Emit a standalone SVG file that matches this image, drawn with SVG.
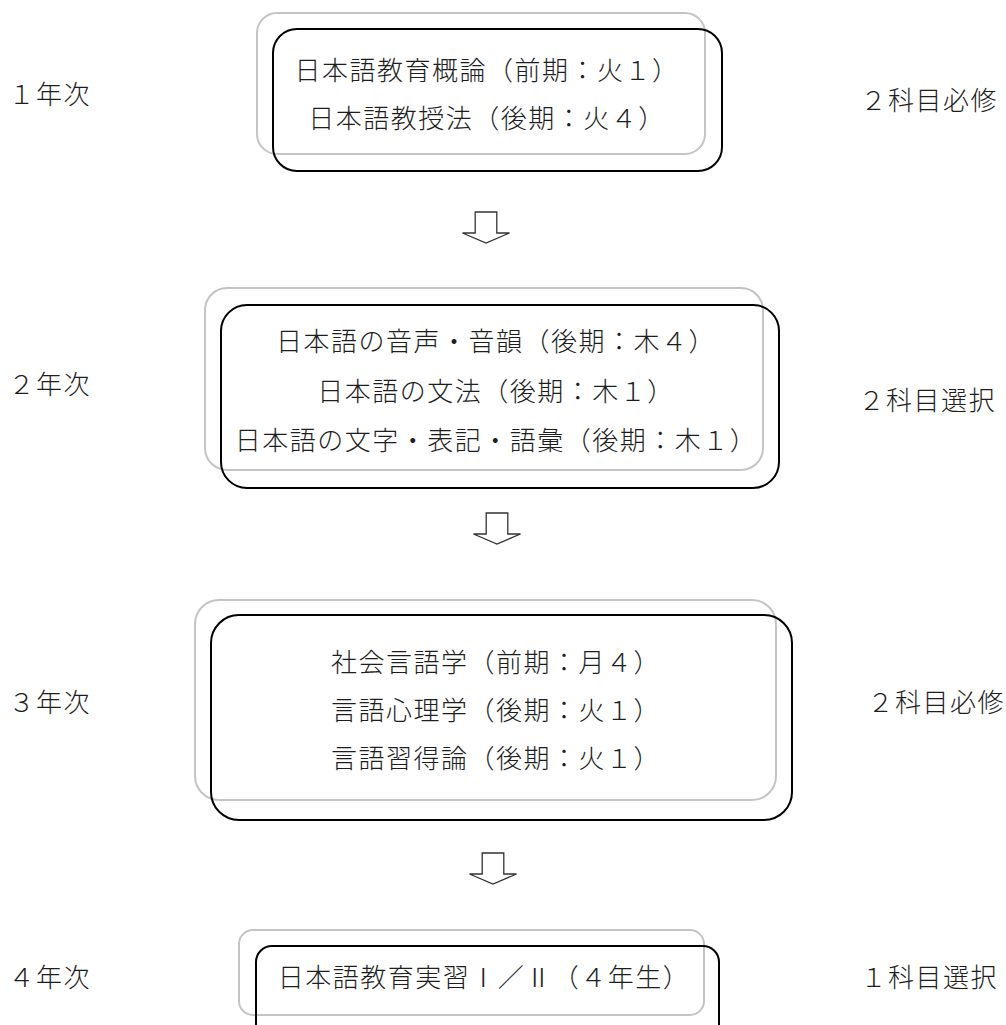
<svg xmlns="http://www.w3.org/2000/svg" width="1006" height="1025" viewBox="0 0 1006 1025">
<defs>
<style>
.bg{fill:#ffffff}
.gray{fill:none;stroke:#c4c4c4;stroke-width:2}
.blk{fill:none;stroke:#000000;stroke-width:2}
.t{font-family:"Noto Sans CJK JP","Noto Sans",sans-serif;font-size:26px;font-weight:300;fill:#1e1e1e;letter-spacing:1.5px}
.c{text-anchor:middle}
.arrow{fill:#ffffff;stroke:#333333;stroke-width:1.3;stroke-linejoin:miter}
</style>
</defs>
<rect class="bg" x="0" y="0" width="1006" height="1025"/>

<g id="labels-left">
<text class="t" x="8.5" y="104">１年次</text>
<text class="t" x="8.5" y="394">２年次</text>
<text class="t" x="8.5" y="712">３年次</text>
<text class="t" x="8.5" y="986.5">４年次</text>
</g>

<g id="labels-right">
<text class="t" x="860.5" y="110">２科目必修</text>
<text class="t" x="858.5" y="410">２科目選択</text>
<text class="t" x="867.5" y="712">２科目必修</text>
<text class="t" x="860.5" y="986.5">１科目選択</text>
</g>

<g id="node-year1">
<rect class="gray" x="257" y="13" width="448" height="141" rx="20"/>
<rect class="blk" x="273" y="29" width="449" height="142" rx="24"/>
<text class="t c" x="487" y="79.5">日本語教育概論（前期：火１）</text>
<text class="t c" x="487" y="128">日本語教授法（後期：火４）</text>
</g>

<g id="node-year2">
<rect class="gray" x="205" y="288" width="558" height="182" rx="22"/>
<rect class="blk" x="221" y="305" width="558" height="183" rx="26"/>
<text class="t c" x="496" y="351">日本語の音声・音韻（後期：木４）</text>
<text class="t c" x="496" y="401">日本語の文法（後期：木１）</text>
<text class="t c" x="496" y="450">日本語の文字・表記・語彙（後期：木１）</text>
</g>

<g id="node-year3">
<rect class="gray" x="195" y="600" width="581" height="200" rx="24"/>
<rect class="blk" x="211" y="615" width="581" height="205" rx="28"/>
<text class="t c" x="496" y="672">社会言語学（前期：月４）</text>
<text class="t c" x="496" y="720">言語心理学（後期：火１）</text>
<text class="t c" x="496" y="768">言語習得論（後期：火１）</text>
</g>

<g id="node-year4">
<rect class="gray" x="239" y="930" width="465" height="85" rx="14"/>
<rect class="blk" x="256" y="946" width="463" height="100" rx="16"/>
<text class="t c" x="484" y="987">日本語教育実習Ⅰ／Ⅱ（４年生）</text>
</g>

<g id="connectors">
<path class="arrow" d="M475.2,212 H496.8 V233 H509.5 L486,243 L462.5,233 H475.2 Z"/>
<path class="arrow" d="M486.2,513 H507.8 V534 H520.5 L497,544 L473.5,534 H486.2 Z"/>
<path class="arrow" d="M482.2,853 H503.8 V874 H516.5 L493,884 L469.5,874 H482.2 Z"/>
</g>
</svg>
